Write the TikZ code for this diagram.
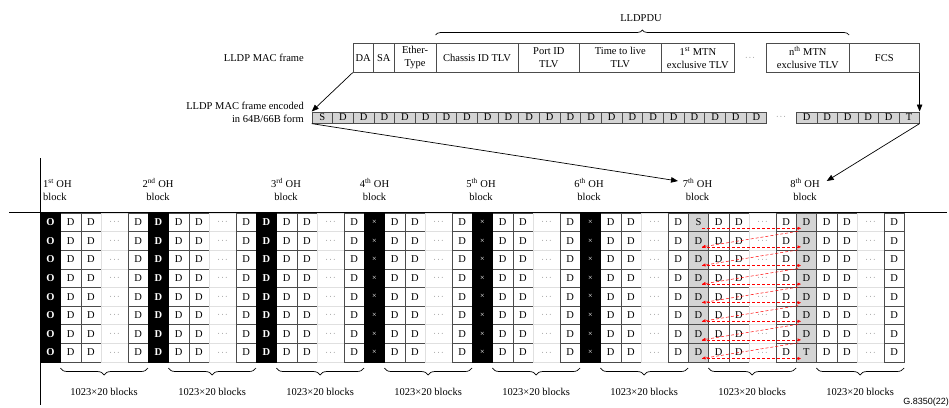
\documentclass[tikz,border=0pt]{standalone}
\usepackage{fontspec}
\setmainfont{Liberation Serif}
\newfontfamily\arialf{Liberation Sans}
\usetikzlibrary{arrows.meta,decorations.pathreplacing,calc}
\begin{document}
\begin{tikzpicture}[x=1pt,y=-1pt,
  every node/.style={font=\fontsize{10.5}{13}\selectfont, inner sep=0pt},
  cellbox/.style={draw=black!70, line width=0.6pt, minimum width=20.25pt, minimum height=18.6pt, anchor=north west},
  dotbox/.style={draw=black!12, line width=0.5pt, minimum width=27pt, minimum height=18.6pt, anchor=north west},
  blk/.style={cellbox, fill=black, draw=black, text=white},
  gry/.style={cellbox, fill=black!17},
  encbox/.style={draw=black!70, line width=0.6pt, fill=black!17, minimum width=20.67pt, minimum height=11.5pt, anchor=north west},
  fbox/.style={draw=black!70, line width=0.6pt, minimum height=29pt, anchor=north west, align=center},
  arr/.style={line width=0.7pt, -{Triangle[length=7pt,width=5.5pt]}},
  redarr/.style={draw=red, densely dashed, line width=0.5pt, -{Triangle[length=3.5pt,width=3pt]}},
  brc/.style={decorate, line width=0.7pt},
  lbl/.style={align=center}
]
\useasboundingbox (0,0) rectangle (949,407);

% ---------------- LLDP MAC frame ----------------
\node[anchor=east] (lmf) at (304,58) {LLDP MAC frame};
\node[fbox, minimum width=20.3pt] (da) at (352.7,43) {DA};
\node[fbox, minimum width=21pt] (sa) at (373,43) {SA};
\node[fbox, minimum width=41.5pt] (eth) at (394,43) {Ether-\\Type};
\node[fbox, minimum width=82.5pt] (cid) at (435.5,43) {Chassis ID TLV};
\node[fbox, minimum width=61pt] (pid) at (518,43) {Port ID\\TLV};
\node[fbox, minimum width=82pt] (ttl) at (579,43) {Time to live\\TLV};
\node[fbox, minimum width=73pt] (m1) at (661,43) {1\textsuperscript{st} MTN\\exclusive TLV};
\node (fdots) at (750,57.5) {\scriptsize$\cdots$};
\node[fbox, minimum width=83pt] (mn) at (766,43) {n\textsuperscript{th} MTN\\exclusive TLV};
\node[fbox, minimum width=70pt] (fcs) at (849,43) {FCS};

\draw[brc, decoration={brace, amplitude=5pt}] (435.7,35) -- (849,35);
\node (pdu) at (641,18) {LLDPDU};

% ---------------- encoded row ----------------
\node[anchor=east, align=right] (enc) at (304,112) {LLDP MAC frame encoded\\in 64B/66B form};
\foreach \i in {0,...,21}{
  \pgfmathsetmacro{\xe}{311.7+20.67*\i}
  \node[encbox] (e-\i) at (\xe,111.5) {\ifnum\i=0 S\else D\fi};
}
\node (edots) at (781,117) {\scriptsize$\cdots$};
\foreach \i in {0,...,5}{
  \pgfmathsetmacro{\xe}{796+20.5*\i}
  \node[encbox, minimum width=20.5pt] (t-\i) at (\xe,111.5) {\ifnum\i=5 T\else D\fi};
}

\draw[arr] (da.south west) -- (e-0.north west);
\draw[arr] (fcs.south east) -- (t-5.north east);

% ---------------- OH labels ----------------
\node[anchor=west, align=left] (oh1) at (43,189.5) {1\textsuperscript{st} OH\\block};
\node[lbl] (oh2) at (158,189.5) {2\textsuperscript{nd} OH\\block};
\node[lbl] (oh3) at (286,189.5) {3\textsuperscript{rd} OH\\block};
\node[lbl] (oh4) at (374.5,189.5) {4\textsuperscript{th} OH\\block};
\node[lbl] (oh5) at (481,189.5) {5\textsuperscript{th} OH\\block};
\node[lbl] (oh6) at (589,189.5) {6\textsuperscript{th} OH\\block};
\node[lbl] (oh7) at (697.5,189.5) {7\textsuperscript{th} OH\\block};
\node[lbl] (oh8) at (805,189.5) {8\textsuperscript{th} OH\\block};
\coordinate (a7) at (678,181);
\coordinate (a8) at (826.7,181);
\draw[arr] (e-0.south west) -- (a7);
\draw[arr] (t-5.south east) -- (a8);

% ---------------- grid ----------------
\foreach \k in {1,...,8}{
  \pgfmathsetmacro{\xo}{40+108*(\k-1)}
  \foreach \r in {1,...,8}{
    \pgfmathsetmacro{\yt}{212.7+18.6*(\r-1)}
    \node[cellbox] (n-\k-2-\r) at (\xo+20.25,\yt) {D};
    \node[cellbox] (n-\k-3-\r) at (\xo+40.5,\yt) {D};
    \node[dotbox]  (n-\k-4-\r) at (\xo+60.75,\yt) {\scriptsize$\cdots$};
    \node[cellbox] (n-\k-5-\r) at (\xo+87.75,\yt) {D};
  }
  \draw[brc, decoration={brace, mirror, amplitude=7pt}] (\xo+20.25,368) -- (\xo+108,368);
  \node (bl-\k) at (\xo+64.1,392) {1023×20 blocks};
}
% special columns
\foreach \k/\txt in {1/{\textbf{O}}, 2/{\textbf{D}}, 3/{\textbf{D}}, 4/{\footnotesize ×}, 5/{\footnotesize ×}, 6/{\footnotesize ×}}{
  \pgfmathsetmacro{\xo}{40+108*(\k-1)}
  \foreach \r in {1,...,8}{
    \pgfmathsetmacro{\yt}{212.7+18.6*(\r-1)}
    \node[blk] (n-\k-1-\r) at (\xo,\yt) {\txt};
  }
}
\foreach \r in {1,...,8}{
  \pgfmathsetmacro{\yt}{212.7+18.6*(\r-1)}
  \node[gry] (n-7-1-\r) at (688,\yt) {\ifnum\r=1 S\else D\fi};
  \node[gry] (n-8-1-\r) at (796,\yt) {\ifnum\r=8 T\else D\fi};
  \pgfmathsetmacro{\yh}{\yt+15.6}
  \coordinate (L\r) at (702,\yh);
  \coordinate (R\r) at (801,\yh);
}
\foreach \r in {1,...,8}{
  \draw[redarr] (L\r) -- (R\r);
}
\foreach \r/\s in {1/2,2/3,3/4,4/5,5/6,6/7,7/8}{
  \draw[redarr] ($(R\r)+(-3,3)$) -- (L\s);
}

\draw[line width=0.8pt] (9,212.7) -- (947,212.7);
\draw[line width=0.8pt] (40,158) -- (40,405);

\node[anchor=east, font=\arialf\fontsize{9}{10}\selectfont] (fig) at (949,402) {G.8350(22)};
\end{tikzpicture}
\end{document}
